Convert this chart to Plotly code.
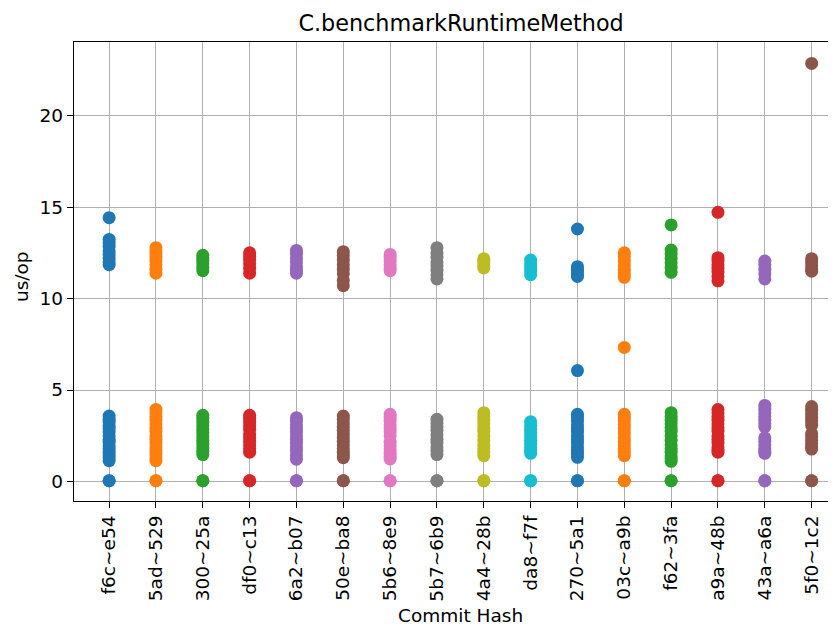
import plotly.graph_objects as go

commits = ["f6c~e54", "5ad~529", "300~25a", "df0~c13", "6a2~b07", "50e~ba8",
           "5b6~8e9", "5b7~6b9", "4a4~28b", "da8~f7f", "270~5a1", "03c~a9b",
           "f62~3fa", "a9a~48b", "43a~a6a", "5f0~1c2"]

v_f6c = [14.42, 13.23, 13.05, 12.85, 12.6, 12.4, 12.2, 12.0, 11.85,
         3.58, 3.4, 3.25, 3.05, 2.9, 2.7, 2.5, 2.3, 2.15, 1.95, 1.8, 1.6, 1.45, 1.3, 1.14,
         0.04, 0.04]
v_5ad = [12.78, 12.6, 12.45, 12.25, 12.05, 11.85, 11.6, 11.38,
         3.94, 3.75, 3.55, 3.35, 3.15, 2.95, 2.75, 2.5, 2.3, 2.1, 1.9, 1.7, 1.5, 1.3, 1.14,
         0.04, 0.04]
v_300 = [12.36, 12.2, 12.05, 11.9, 11.7, 11.52,
         3.62, 3.45, 3.25, 3.05, 2.85, 2.65, 2.45, 2.25, 2.05, 1.85, 1.65, 1.47,
         0.04, 0.04]
v_df0 = [12.5, 12.3, 12.1, 11.9, 11.65, 11.38,
         3.62, 3.45, 3.25, 3.05, 2.85, 2.6, 2.4, 2.2, 2.0, 1.8, 1.6,
         0.04, 0.04]
v_6a2 = [12.63, 12.45, 12.2, 12.0, 11.75, 11.55, 11.38,
         3.49, 3.3, 3.1, 2.9, 2.7, 2.5, 2.3, 2.1, 1.9, 1.7, 1.45, 1.22,
         0.04, 0.04]
v_50e = [12.56, 12.35, 12.1, 11.85, 11.6, 11.35, 11.0, 10.7,
         3.58, 3.4, 3.2, 3.0, 2.8, 2.6, 2.4, 2.2, 2.0, 1.8, 1.6, 1.45, 1.3,
         0.04, 0.04]
v_5b6 = [12.41, 12.25, 12.05, 11.85, 11.65, 11.52,
         3.67, 3.5, 3.3, 3.1, 2.9, 2.7, 2.5, 2.15, 1.95, 1.75, 1.55, 1.38, 1.23,
         0.04, 0.04]
v_5b7 = [12.78, 12.5, 12.25, 12.0, 11.8, 11.55, 11.3, 11.07,
         3.4, 3.2, 3.0, 2.8, 2.55, 2.3, 2.1, 1.9, 1.7, 1.47,
         0.04, 0.04]
v_4a4 = [12.18, 12.05, 11.9, 11.78, 11.67,
         3.76, 3.55, 3.35, 3.15, 2.95, 2.75, 2.5, 2.25, 2.0, 1.8, 1.6, 1.41,
         0.04, 0.04]
v_da8 = [12.1, 11.9, 11.7, 11.5, 11.3,
         3.27, 3.05, 2.85, 2.65, 2.45, 2.25, 2.05, 1.85, 1.7, 1.54,
         0.04, 0.04]
v_270 = [13.8, 11.74, 11.6, 11.45, 11.3, 11.21, 6.06,
         3.67, 3.5, 3.3, 3.1, 2.9, 2.7, 2.5, 2.3, 2.1, 1.9, 1.7, 1.5, 1.32,
         0.04, 0.04]
v_03c = [12.5, 12.3, 12.05, 11.8, 11.55, 11.35, 11.16, 7.33,
         3.67, 3.5, 3.3, 3.1, 2.9, 2.65, 2.4, 2.2, 2.0, 1.8, 1.6, 1.41,
         0.04, 0.04]
v_f62 = [14.02, 12.65, 12.45, 12.2, 11.95, 11.7, 11.43,
         3.76, 3.55, 3.35, 3.15, 2.95, 2.75, 2.5, 2.25, 2.0, 1.8, 1.6, 1.4, 1.25, 1.1,
         0.04, 0.04]
v_a9a = [14.71, 12.23, 12.05, 11.85, 11.65, 11.45, 11.2, 10.97,
         3.93, 3.75, 3.55, 3.35, 3.15, 2.95, 2.75, 2.5, 2.3, 2.1, 1.9, 1.75, 1.6,
         0.04, 0.04]
v_43a = [12.05, 11.85, 11.6, 11.35, 11.07,
         4.16, 3.95, 3.75, 3.55, 3.35, 3.15, 2.99, 2.39, 2.2, 2.0, 1.8, 1.65, 1.54,
         0.04, 0.04]
v_5f0 = [22.85, 12.18, 12.0, 11.8, 11.6, 11.49,
         4.1, 3.9, 3.7, 3.5, 3.3, 3.08, 2.62, 2.45, 2.25, 2.05, 1.9, 1.77,
         0.04, 0.04]

series = [v_f6c, v_5ad, v_300, v_df0, v_6a2, v_50e, v_5b6, v_5b7,
          v_4a4, v_da8, v_270, v_03c, v_f62, v_a9a, v_43a, v_5f0]

palette = ["#1f77b4", "#ff7f0e", "#2ca02c", "#d62728", "#9467bd",
           "#8c564b", "#e377c2", "#7f7f7f", "#bcbd22", "#17becf"]

y_ticks = [0, 5, 10, 15, 20]

FONT = "DejaVu Sans"

fig = go.Figure()
for i, (name, vals) in enumerate(zip(commits, series)):
    fig.add_trace(go.Scatter(
        x=[i] * len(vals), y=vals, mode="markers",
        marker=dict(color=palette[i % len(palette)], size=13, line=dict(width=0)),
        name=name, showlegend=False, hoverinfo="y",
    ))

fig.update_layout(
    width=828, height=622,
    margin=dict(l=66, r=0, t=34, b=129, autoexpand=False),
    paper_bgcolor="white", plot_bgcolor="white",
    font=dict(family=FONT, size=18.5, color="black"),
    title=dict(text="C.benchmarkRuntimeMethod", x=0.508, xref="paper",
               xanchor="center", y=1, yref="paper", yanchor="bottom",
               pad=dict(b=11), font=dict(size=22.3, family=FONT, color="black")),
    showlegend=False,
    annotations=[
        dict(text="Commit Hash", xref="paper", yref="paper", x=0.507, y=-0.2505,
             xanchor="center", yanchor="middle", showarrow=False,
             font=dict(size=18.5, family=FONT, color="black")),
        dict(text="us/op", xref="paper", yref="paper", x=-0.0696, y=0.49,
             xanchor="center", yanchor="middle", showarrow=False, textangle=-90,
             font=dict(size=18.5, family=FONT, color="black")),
    ],
)

fig.update_xaxes(
    range=[-0.75, 15.52], automargin=False,
    tickmode="array", tickvals=list(range(len(commits))), ticktext=commits,
    tickangle=-90, ticks="outside", ticklen=6, tickwidth=1.2, tickcolor="black",
    showgrid=True, gridcolor="#b0b0b0", gridwidth=1.1,
    showline=True, linecolor="black", linewidth=1.3, mirror=True,
    zeroline=False,
    tickfont=dict(size=18.5, family=FONT),
)
fig.update_yaxes(
    range=[-1.066, 24.02], automargin=False,
    tickmode="array", tickvals=y_ticks, ticktext=[str(t) for t in y_ticks],
    ticks="outside", ticklen=6, tickwidth=1.2, tickcolor="black",
    showgrid=True, gridcolor="#b0b0b0", gridwidth=1.1,
    showline=True, linecolor="black", linewidth=1.3, mirror=False,
    zeroline=False,
    tickfont=dict(size=18.5, family=FONT),
)

fig.write_html("out.html")
